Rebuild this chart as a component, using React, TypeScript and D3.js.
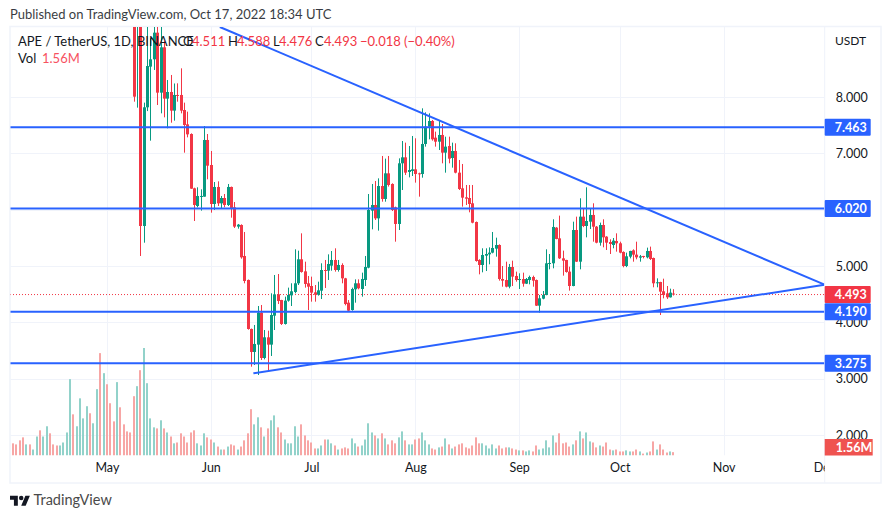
import React, { useRef, useEffect } from "react";
import * as d3 from "d3";

// candles start on May 9, everything before that is above the visible price range
const firstCandle = 8;

const opens = [
  10.4, 9.6, 10.2, 5.71, 7.817, 8.539, 8.669, 9.142, 8.077, 8.882, 7.971, 8.089, 7.758, 8.036, 8.036, 7.769, 7.515, 7.343,
  6.379, 6.065, 6.231, 6.231, 7.237, 6.793, 6.101, 6.403, 6.112, 6.207, 6.083, 6.403, 6.042, 5.699, 5.728, 5.178, 4.752, 3.882,
  3.474, 3.604, 4.172, 3.367, 3.734, 3.604, 4.118, 4.497, 4.396, 3.971, 4.385, 4.479, 4.539, 4.693, 5.119, 4.905, 4.693, 4.645,
  4.533, 4.491, 4.562, 4.929, 4.917, 5.006, 5.107, 4.929, 5.018, 4.781, 4.349, 4.219, 4.586, 4.693, 4.592, 4.752, 4.971, 5.983,
  6.083, 5.846, 6.42, 6.19, 6.645, 6.456, 6.042, 5.746, 6.823, 6.929, 6.669, 6.687, 6.716, 6.645, 6.633, 7.166, 7.474, 7.574,
  7.278, 7.207, 7.326, 7.012, 7.13, 6.917, 7.042, 6.657, 6.379, 6.219, 6.207, 6.113, 5.781, 5.107, 5.018, 5.183, 5.207, 5.237,
  5.308, 5.373, 4.769, 4.751, 4.633, 4.982, 4.823, 4.757, 4.769, 4.686, 4.751, 4.805, 4.751, 4.296, 4.42, 4.486, 5.048, 5.048,
  5.681, 5.491, 5.136, 5.107, 4.9, 4.645, 5.639, 5.077, 5.876, 5.71, 5.787, 5.906, 5.698, 5.414, 5.728, 5.521, 5.426, 5.373,
  5.444, 5.403, 5.249, 5.0, 5.166, 5.278, 5.201, 5.148, 5.178, 5.154, 5.267, 5.142, 4.705, 4.716, 4.551, 4.515, 4.444, 4.511,
];
const highs = [
  11.2, 11.0, 10.6, 7.9, 9.5, 9.04, 9.5, 9.4, 9.5, 9.0, 8.302, 8.391, 8.24, 8.243, 8.509, 7.9, 7.74, 7.355,
  6.39, 6.397, 6.361, 7.485, 7.343, 7.042, 6.491, 6.503, 6.243, 6.278, 6.456, 6.41, 6.136, 5.746, 5.74, 5.604, 4.76, 3.89,
  3.953, 4.29, 4.308, 3.864, 3.852, 4.515, 4.84, 4.858, 4.4, 4.456, 4.616, 4.693, 5.296, 5.272, 5.58, 5.077, 4.823, 4.811,
  4.663, 4.722, 5.048, 5.107, 5.207, 5.266, 5.314, 5.107, 5.048, 4.79, 4.396, 4.616, 4.763, 4.763, 4.882, 5.178, 6.278, 6.456,
  6.509, 6.556, 6.953, 6.906, 6.953, 6.468, 6.054, 6.911, 7.219, 7.19, 7.13, 7.308, 7.267, 6.657, 7.799, 7.728, 7.71, 7.592,
  7.385, 7.592, 7.521, 7.296, 7.296, 7.19, 7.178, 6.882, 6.811, 6.438, 6.438, 6.438, 5.79, 5.12, 5.314, 5.314, 5.331, 5.604,
  5.503, 5.385, 5.0, 5.077, 5.036, 5.095, 4.9, 4.87, 4.882, 4.787, 4.829, 4.829, 4.76, 4.485, 4.556, 5.296, 5.213, 5.829,
  5.69, 5.894, 5.273, 5.11, 4.988, 5.787, 5.876, 6.202, 6.024, 6.397, 6.024, 6.113, 5.71, 5.77, 5.829, 5.53, 5.474, 5.497,
  5.58, 5.432, 5.26, 5.237, 5.27, 5.296, 5.432, 5.196, 5.18, 5.326, 5.344, 5.15, 4.781, 4.72, 4.775, 4.645, 4.598, 4.588,
];
const lows = [
  7.917, 7.811, 5.178, 5.414, 7.75, 7.225, 8.48, 7.858, 7.71, 7.639, 7.444, 7.544, 7.58, 7.917, 7.71, 7.012, 7.284, 6.37,
  5.799, 6.042, 5.983, 6.23, 6.539, 5.947, 5.994, 6.065, 6.024, 6.042, 6.065, 5.858, 5.675, 5.663, 5.13, 4.693, 3.87, 3.213,
  3.243, 3.065, 3.332, 3.343, 3.124, 3.403, 3.864, 4.325, 3.953, 3.96, 4.367, 4.29, 4.515, 4.663, 4.882, 4.616, 4.219, 4.367,
  4.367, 4.474, 4.414, 4.61, 4.752, 4.917, 4.9, 4.9, 4.693, 4.302, 4.184, 4.207, 4.349, 4.586, 4.456, 4.645, 4.959, 5.651,
  5.817, 5.628, 6.142, 6.142, 6.41, 5.976, 5.432, 5.639, 6.349, 6.616, 6.574, 6.598, 6.48, 6.231, 6.568, 7.119, 7.249, 7.225,
  7.119, 7.059, 6.823, 6.657, 6.823, 6.746, 6.645, 6.349, 6.054, 6.083, 5.953, 5.758, 5.077, 4.852, 4.888, 4.911, 5.03, 5.225,
  5.166, 4.74, 4.633, 4.621, 4.604, 4.645, 4.722, 4.592, 4.633, 4.68, 4.675, 4.633, 4.29, 4.172, 4.409, 4.48, 4.941, 4.959,
  5.474, 5.125, 4.829, 4.882, 4.563, 4.64, 5.071, 4.941, 5.69, 5.509, 5.657, 5.432, 5.403, 5.361, 5.332, 5.284, 5.213, 5.314,
  5.255, 5.225, 4.977, 4.98, 5.136, 5.077, 5.119, 5.077, 5.136, 5.136, 5.107, 4.622, 4.622, 4.13, 4.426, 4.415, 4.44, 4.476,
];
const closes = [
  8.006, 10.0, 5.71, 7.817, 8.55, 8.669, 9.142, 8.077, 8.882, 7.971, 8.089, 7.758, 8.036, 8.018, 7.758, 7.503, 7.337, 6.373,
  6.083, 6.243, 6.243, 7.237, 6.781, 6.101, 6.403, 6.112, 6.207, 6.083, 6.403, 6.03, 5.699, 5.734, 5.154, 4.734, 3.882, 3.474,
  3.616, 4.172, 3.367, 3.734, 3.604, 4.13, 4.497, 4.379, 3.971, 4.385, 4.485, 4.551, 4.693, 5.119, 4.894, 4.681, 4.633, 4.527,
  4.491, 4.568, 4.929, 4.917, 5.036, 5.107, 4.929, 5.018, 4.781, 4.325, 4.207, 4.592, 4.693, 4.604, 4.77, 4.983, 5.994, 6.083,
  5.846, 6.42, 6.19, 6.645, 6.438, 5.994, 5.746, 6.823, 6.929, 6.657, 6.704, 6.716, 6.633, 6.633, 7.166, 7.474, 7.574, 7.249,
  7.207, 7.326, 7.012, 7.119, 6.905, 7.042, 6.657, 6.367, 6.213, 6.195, 6.101, 5.769, 5.089, 5.018, 5.195, 5.213, 5.237, 5.32,
  5.373, 4.769, 4.74, 4.633, 4.982, 4.811, 4.751, 4.769, 4.686, 4.769, 4.805, 4.74, 4.296, 4.426, 4.486, 5.048, 5.054, 5.693,
  5.48, 5.136, 5.095, 4.894, 4.645, 5.639, 5.077, 5.876, 5.71, 5.799, 5.906, 5.698, 5.414, 5.728, 5.509, 5.414, 5.391, 5.45,
  5.403, 5.237, 5.0, 5.172, 5.267, 5.201, 5.154, 5.172, 5.166, 5.267, 5.125, 4.693, 4.711, 4.545, 4.486, 4.444, 4.527, 4.493,
];

// daily volume in millions, first bar is Apr 3
const firstVolume = -28;
const volumes = [
  5.7, 5.2, 7.1, 8.5, 5.2, 5.2, 2.8, 8.9, 11.8, 8.9, 13.7, 10.4, 5.2, 4.7, 4.7, 6.1, 10.8, 35.8, 19.3, 13.7,
  26.8, 17.4, 23.1, 19.8, 15.1, 31.1, 48.0, 38.6, 33.4, 24.5, 16.0, 34.4, 22.6, 14.6, 11.3, 10.8,
  27.8, 32.5, 40.0, 50.4, 33.9, 17.4, 13.2, 12.7, 16.5, 12.7, 10.8, 8.9, 5.7, 6.1, 10.4, 8.9, 6.1, 10.8, 11.8, 5.7,
  4.7, 10.4, 8.5, 7.5, 6.1, 4.2, 2.8, 2.8, 4.2, 5.2, 4.7, 2.8, 4.2, 7.1, 10.4, 21.7, 14.6, 17.9, 13.2, 8.9,
  12.7, 16.5, 18.8, 13.2, 10.8, 7.5, 5.7, 5.7, 13.7, 8.9, 14.6, 9.4, 7.1, 6.1, 3.3, 3.3, 4.7, 7.5, 7.5, 5.7,
  4.7, 2.8, 3.3, 3.8, 3.3, 8.0, 5.7, 4.2, 4.7, 7.5, 15.1, 10.8, 9.4, 8.0, 10.4, 8.0, 5.2, 7.1, 5.7, 8.5,
  11.3, 7.1, 5.2, 5.2, 7.5, 8.0, 10.8, 7.1, 5.2, 3.3, 2.8, 3.8, 4.2, 8.0, 5.2, 3.3, 4.2, 5.2, 5.7, 3.8,
  3.3, 4.7, 8.5, 5.7, 5.7, 4.7, 3.3, 5.2, 3.3, 4.7, 3.3, 3.8, 3.8, 3.3, 2.8, 2.4, 2.4, 1.9, 2.4, 1.9,
  4.7, 2.8, 3.3, 7.1, 3.8, 9.4, 6.1, 10.4, 5.7, 6.1, 4.2, 5.2, 7.1, 11.3, 8.0, 10.8, 6.6, 6.1, 3.8, 4.7,
  4.2, 6.1, 2.8, 2.4, 2.8, 1.9, 1.9, 2.4, 1.9, 1.9, 2.8, 1.9, 0.9, 1.4, 1.9, 6.6, 2.8, 5.2, 2.8, 1.4, 1.9, 1.56,
];
// direction of the days whose candles are off the top of the chart
const earlyUp = [
  0, 0, 0, 0, 1, 0, 1, 1, 0, 1, 1, 0, 0, 0, 1, 1, 1, 1, 0, 1, 1, 1, 1, 0, 1, 1, 0, 1, 0, 0, 0, 1, 0, 0, 0, 0,
];

const priceTicks = [8, 7, 6, 5, 4, 3, 2];
const levels = [7.463, 6.02, 4.19, 3.275];
const lastPrice = 4.493;
const lastVolumeLabel = "1.56M";
const monthTicks = [0, 31, 61, 92, 123, 153, 184, 214];
// [day, price] ends of the two drawn trend lines
const upperTrend = [[33.7, 9.243], [214.1, 4.668]];
const lowerTrend = [[43.7, 3.095], [214.1, 4.668]];

const legendValues = [
  { text: "O", x: 183, red: false },
  { text: "4.511", x: 192, red: true },
  { text: "H", x: 228, red: false },
  { text: "4.588", x: 237, red: true },
  { text: "L", x: 273, red: false },
  { text: "4.476", x: 279, red: true },
  { text: "C", x: 315, red: false },
  { text: "4.493", x: 324, red: true },
  { text: "−0.018 (−0.40%)", x: 360, red: true },
];

const upColor = "#089981";
const downColor = "#f23645";
const lineColor = "#2962ff";
const gridColor = "#f0f3fa";
const textColor = "#131722";
const fontFamily = "Lato, sans-serif";

const day = (i: number) => new Date(Date.UTC(2022, 4, 1) + i * 864e5);

const App: React.FC = () => {
  const svgRef = useRef<SVGSVGElement>(null);

  useEffect(() => {
    const svg = d3.select(svgRef.current);
    svg.selectAll("*").remove();

    const plotRight = 824.7;
    const plotTop = 27;
    const plotBottom = 455.5;

    const x = d3.scaleUtc().domain([day(0), day(214)]).range([106.9, 824.2]);
    const y = d3.scaleLinear().domain([2, 8]).range([435, 97]);
    const vol = d3.scaleLinear().domain([0, 50.4]).range([455.5, 348]);

    const defs = svg.append("defs");
    defs
      .append("clipPath")
      .attr("id", "plot")
      .append("rect")
      .attr("x", 10.5)
      .attr("y", plotTop)
      .attr("width", plotRight - 10.5)
      .attr("height", plotBottom - plotTop);
    defs
      .append("clipPath")
      .attr("id", "timeAxis")
      .append("rect")
      .attr("x", 10.5)
      .attr("y", plotBottom)
      .attr("width", plotRight - 10.5)
      .attr("height", 27);

    svg
      .append("text")
      .attr("x", 10)
      .attr("y", 19)
      .attr("font-size", 13)
      .attr("fill", textColor)
      .attr("opacity", 0.85)
      .text("Published on TradingView.com, Oct 17, 2022 18:34 UTC");

    // outer frame
    svg
      .append("rect")
      .attr("x", 10)
      .attr("y", 26.5)
      .attr("width", 871)
      .attr("height", 456.5)
      .attr("fill", "none")
      .attr("stroke", gridColor)
      .attr("stroke-width", 1.5);

    const plot = svg.append("g").attr("clip-path", "url(#plot)");

    // grid
    plot
      .selectAll("line.h")
      .data(priceTicks)
      .enter()
      .append("line")
      .attr("x1", 10)
      .attr("x2", plotRight)
      .attr("y1", (d) => Math.round(y(d)) + 0.5)
      .attr("y2", (d) => Math.round(y(d)) + 0.5)
      .attr("stroke", gridColor);
    plot
      .selectAll("line.v")
      .data(monthTicks)
      .enter()
      .append("line")
      .attr("x1", (d) => Math.round(x(day(d))) + 0.5)
      .attr("x2", (d) => Math.round(x(day(d))) + 0.5)
      .attr("y1", plotTop)
      .attr("y2", plotBottom)
      .attr("stroke", gridColor);

    svg
      .append("line")
      .attr("x1", plotRight)
      .attr("x2", plotRight)
      .attr("y1", plotTop)
      .attr("y2", 483)
      .attr("stroke", gridColor);

    // volume
    const isUp = (i: number) => {
      if (i < firstCandle) return earlyUp[i - firstVolume] === 1;
      const k = i - firstCandle;
      return closes[k] >= opens[k];
    };
    plot
      .selectAll("rect.vol")
      .data(volumes)
      .enter()
      .append("rect")
      .attr("x", (_, i) => Math.round(x(day(i + firstVolume))) - 1)
      .attr("width", 2)
      .attr("y", (d) => vol(d))
      .attr("height", (d) => vol(0) - vol(d))
      .attr("fill", (_, i) => (isUp(i + firstVolume) ? "#92d2ca" : "#f7a6a5"));

    // last price line
    plot
      .append("line")
      .attr("x1", 10)
      .attr("x2", plotRight)
      .attr("y1", y(lastPrice))
      .attr("y2", y(lastPrice))
      .attr("stroke", downColor)
      .attr("stroke-dasharray", "1 2");

    // candles
    const candles = plot
      .selectAll("g.candle")
      .data(opens.map((_, k) => k))
      .enter()
      .append("g")
      .attr("fill", (k) => (closes[k] >= opens[k] ? upColor : downColor));
    candles
      .append("rect")
      .attr("x", (k) => Math.round(x(day(k + firstCandle))))
      .attr("width", 1)
      .attr("y", (k) => y(highs[k]))
      .attr("height", (k) => y(lows[k]) - y(highs[k]));
    candles
      .append("rect")
      .attr("x", (k) => Math.round(x(day(k + firstCandle))) - 1)
      .attr("width", 3)
      .attr("y", (k) => y(Math.max(opens[k], closes[k])))
      .attr("height", (k) => Math.max(1, Math.abs(y(opens[k]) - y(closes[k]))));

    // horizontal levels and trend lines
    plot
      .selectAll("line.level")
      .data(levels)
      .enter()
      .append("line")
      .attr("x1", 10)
      .attr("x2", plotRight)
      .attr("y1", (d) => y(d))
      .attr("y2", (d) => y(d))
      .attr("stroke", lineColor)
      .attr("stroke-width", 2);
    const trend = d3
      .line<number[]>()
      .x((d) => x(day(d[0])))
      .y((d) => y(d[1]));
    [upperTrend, lowerTrend].forEach((t) => {
      plot
        .append("path")
        .attr("d", trend(t))
        .attr("fill", "none")
        .attr("stroke", lineColor)
        .attr("stroke-width", 2);
    });

    // legend
    const legend = svg.append("g").attr("font-size", 13);
    legend
      .append("text")
      .attr("x", 18)
      .attr("y", 46)
      .attr("fill", textColor)
      .text("APE / TetherUS, 1D, BINANCE");
    legend
      .selectAll("text.val")
      .data(legendValues)
      .enter()
      .append("text")
      .attr("x", (d) => d.x)
      .attr("y", 46)
      .attr("fill", (d) => (d.red ? downColor : textColor))
      .text((d) => d.text);
    legend
      .append("text")
      .attr("x", 18)
      .attr("y", 63)
      .attr("fill", textColor)
      .text("Vol");
    legend
      .append("text")
      .attr("x", 42)
      .attr("y", 63)
      .attr("fill", "#f7525f")
      .text(lastVolumeLabel);

    svg
      .append("text")
      .attr("x", 835)
      .attr("y", 45)
      .attr("font-size", 12)
      .attr("fill", textColor)
      .text("USDT");

    // price axis
    const priceAxis = svg
      .append("g")
      .attr("transform", `translate(${plotRight},0)`)
      .call(
        d3
          .axisRight(y)
          .tickValues(priceTicks)
          .tickFormat(d3.format(".3f") as any)
          .tickSize(0)
          .tickPadding(11)
      );
    priceAxis.select(".domain").remove();
    priceAxis
      .selectAll("text")
      .attr("font-size", 12.5)
      .attr("font-family", fontFamily)
      .attr("fill", textColor);

    // time axis
    const timeAxis = svg
      .append("g")
      .attr("clip-path", "url(#timeAxis)")
      .append("g")
      .attr("transform", `translate(0,${plotBottom})`)
      .call(
        d3
          .axisBottom(x)
          .tickValues(monthTicks.map(day))
          .tickFormat(d3.utcFormat("%b") as any)
          .tickSize(0)
          .tickPadding(8)
      );
    timeAxis.select(".domain").remove();
    timeAxis
      .selectAll("text")
      .attr("font-size", 12.5)
      .attr("font-family", fontFamily)
      .attr("fill", textColor);

    // value tags on the price axis
    const tag = (value: number, label: string, color: string) => {
      const cy = y(value);
      svg
        .append("rect")
        .attr("x", plotRight)
        .attr("y", cy - 8.5)
        .attr("width", 46)
        .attr("height", 17)
        .attr("rx", 1)
        .attr("fill", color);
      svg
        .append("text")
        .attr("x", plotRight + 10)
        .attr("y", cy + 4.5)
        .attr("font-size", 12.5)
        .attr("font-weight", 700)
        .attr("fill", "#fff")
        .text(label);
    };
    levels.forEach((l) => tag(l, l.toFixed(3), lineColor));
    tag(lastPrice, lastPrice.toFixed(3), downColor);

    svg
      .append("rect")
      .attr("x", plotRight)
      .attr("y", 439)
      .attr("width", 48)
      .attr("height", 16.5)
      .attr("fill", "#ef5350");
    svg
      .append("text")
      .attr("x", plotRight + 11)
      .attr("y", 452)
      .attr("font-size", 12.5)
      .attr("font-weight", 700)
      .attr("fill", "#fff")
      .text(lastVolumeLabel);

    // footer logo
    const logo = svg
      .append("g")
      .attr("transform", "translate(10,493.5) scale(0.56)")
      .attr("fill", textColor);
    logo.append("path").attr("d", "M14 22H7V11H0V4h14v18zM28 22h-8l7.5-18h8L28 22z");
    logo.append("circle").attr("cx", 20).attr("cy", 8).attr("r", 4);
    svg
      .append("text")
      .attr("x", 33.5)
      .attr("y", 505)
      .attr("font-size", 14.5)
      .attr("fill", "#4a4a4a")
      .text("TradingView");
  }, []);

  return (
    <svg
      ref={svgRef}
      width={891}
      height={518}
      style={{ position: "absolute", left: 0, top: 0, background: "#fff", fontFamily }}
    ></svg>
  );
};

export default App;
